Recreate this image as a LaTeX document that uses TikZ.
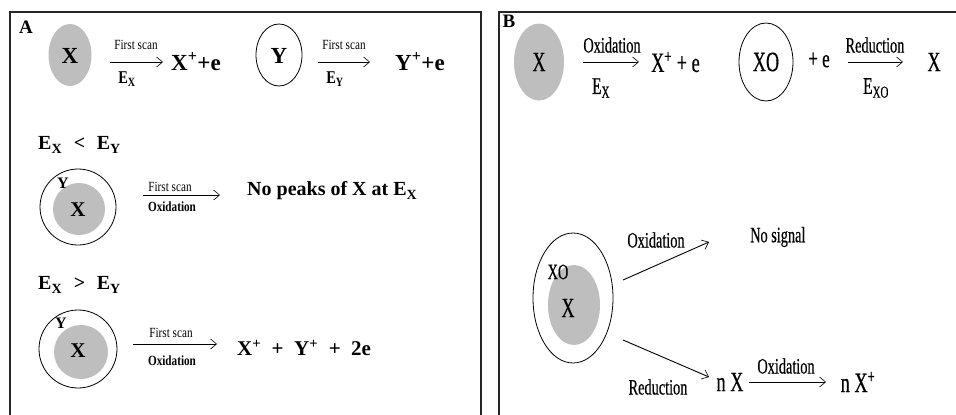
\documentclass[tikz,border=0pt]{standalone}
\usepackage{fontspec}
\setmainfont{Liberation Serif}
\newfontfamily\condB[FakeStretch=0.65,FakeBold=0.4]{Liberation Serif}
\newfontfamily\condA[FakeStretch=0.8]{Liberation Serif}
\usetikzlibrary{arrows.meta,shapes.geometric}
\definecolor{blobgray}{RGB}{190,190,190}
\tikzset{
  frame/.style={line width=1.2pt, draw=black!85},
  rxn/.style={line width=0.7pt, -{Straight Barb[length=6pt,width=10pt,line width=0.6pt]}},
  rxnb/.style={line width=0.9pt, -{Straight Barb[length=6pt,width=10pt,line width=0.6pt]}},
  blob/.style={ellipse, fill=blobgray, inner sep=0pt},
  shell/.style={ellipse, draw, line width=0.8pt, inner sep=0pt},
  abig/.style={font=\bfseries\fontsize{23}{25}\selectfont, inner sep=0pt},
  amid/.style={font=\bfseries\fontsize{20}{22}\selectfont, inner sep=0pt},
  asmall/.style={font=\condA\fontsize{14}{15}\selectfont, inner sep=0pt},
  asmallb/.style={font=\condA\bfseries\fontsize{14}{15}\selectfont, inner sep=0pt},
  esub/.style={font=\condA\bfseries\fontsize{18}{20}\selectfont, inner sep=0pt},
  bbig/.style={font=\condB\fontsize{28}{30}\selectfont, inner sep=0pt},
  blab/.style={font=\condB\fontsize{22}{24}\selectfont, inner sep=0pt},
}
\begin{document}
\begin{tikzpicture}[x=1pt,y=-1pt]
\useasboundingbox (0,0) rectangle (956,415);
\fill[white] (0,0) rectangle (956,415);
% frames
\draw[frame] (10,415) -- (10,12) -- (481,12) -- (481,415);
\draw[frame] (499,415) -- (499,12) -- (956,12);

% ---------------- Panel A ----------------
\node[font=\bfseries\fontsize{19}{21}\selectfont, inner sep=0pt] (labA) at (26,27) {A};
\node[blob, minimum width=43pt, minimum height=62pt] (ax) at (70,55) {};
\node[abig] (axt) at (70,56) {X};
\coordinate (a1s) at (110,62); \coordinate (a1e) at (163,62);
\draw[rxn] (a1s) -- (a1e);
\node[asmall] (a1u) at (136,45) {First scan};
\node[esub] (a1d) at (127,79) {E\textsubscript{X}};
\node[abig, anchor=west] (axp) at (171,62) {X\textsuperscript{+}+e};

\node[shell, minimum width=46pt, minimum height=62pt] (ay) at (279,55) {};
\node[abig] (ayt) at (279,56) {Y};
\coordinate (a2s) at (318,62); \coordinate (a2e) at (370,62);
\draw[rxn] (a2s) -- (a2e);
\node[asmall] (a2u) at (344,45) {First scan};
\node[esub] (a2d) at (335,79) {E\textsubscript{Y}};
\node[abig, anchor=west] (ayp) at (395,62) {Y\textsuperscript{+}+e};

% E_X < E_Y
\node[amid, anchor=west] (lt) at (38,145) {E\textsubscript{X} \,\,<\,\, E\textsubscript{Y}};
\node[shell, circle, minimum size=76pt] (c1o) at (78,207) {};
\node[blob, circle, minimum size=52pt] (c1i) at (79,209) {};
\node[font=\bfseries\fontsize{16}{18}\selectfont, inner sep=0pt] (c1y) at (63,183) {Y};
\node[font=\bfseries\fontsize{21}{23}\selectfont, inner sep=0pt] (c1x) at (78,210) {X};
\coordinate (a3s) at (143,195); \coordinate (a3e) at (220,195);
\draw[rxn] (a3s) -- (a3e);
\node[asmall] (a3u) at (170,187) {First scan};
\node[asmallb] (a3d) at (172,207) {Oxidation};
\node[amid, anchor=west] (np) at (247,191) {No peaks of X at E\textsubscript{X}};

% E_X > E_Y
\node[amid, anchor=west] (gt) at (38,285) {E\textsubscript{X} \,\,>\,\, E\textsubscript{Y}};
\node[shell, circle, minimum size=78pt] (c2o) at (78,349) {};
\node[blob, circle, minimum size=54pt] (c2i) at (81,352) {};
\node[font=\bfseries\fontsize{16}{18}\selectfont, inner sep=0pt] (c2y) at (61,323) {Y};
\node[font=\bfseries\fontsize{21}{23}\selectfont, inner sep=0pt] (c2x) at (78,351) {X};
\coordinate (a4s) at (133,344); \coordinate (a4e) at (217,344);
\draw[rxn] (a4s) -- (a4e);
\node[asmall] (a4u) at (171,333) {First scan};
\node[asmallb] (a4d) at (172,361) {Oxidation};
\node[abig, font=\bfseries\fontsize{21}{23}\selectfont, anchor=west] (prod) at (237,348) {X\textsuperscript{+} \ + \ Y\textsuperscript{+} \ + \ 2e};

% ---------------- Panel B ----------------
\node[font=\bfseries\fontsize{19}{21}\selectfont, inner sep=0pt] (labB) at (509,21) {B};
\node[blob, minimum width=50pt, minimum height=77pt] (bx) at (539,62) {};
\node[bbig] (bxt) at (539,62) {X};
\coordinate (b1s) at (583,62); \coordinate (b1e) at (639,62);
\draw[rxnb] (b1s) -- (b1e);
\node[blab] (b1u) at (612,45) {Oxidation};
\node[blab, font=\condB\fontsize{24}{26}\selectfont] (b1d) at (601,88) {E\textsubscript{X}};
\node[bbig, anchor=west] (bxp) at (651,62) {X\textsuperscript{+}\,+\,e};

\node[shell, minimum width=54pt, minimum height=78pt] (bxo) at (766,62) {};
\node[bbig] (bxot) at (766,62) {XO};
\node[blab, font=\condB\fontsize{26}{28}\selectfont] (bpe) at (819,60) {+\,e};
\coordinate (b2s) at (848,62); \coordinate (b2e) at (903,62);
\draw[rxnb] (b2s) -- (b2e);
\node[blab] (b2u) at (875,45) {Reduction};
\node[blab, font=\condB\fontsize{24}{26}\selectfont] (b2d) at (876,88) {E\textsubscript{XO}};
\node[bbig] (bxr) at (934,62) {X};

% lower B
\node[shell, minimum width=80pt, minimum height=130pt] (bco) at (573,298) {};
\node[blob, minimum width=52pt, minimum height=80pt] (bci) at (574,305) {};
\node[blab] (bcxo) at (558,272) {XO};
\node[bbig] (bcx) at (568,308) {X};
\coordinate (b3s) at (623,280); \coordinate (b3e) at (709,242);
\draw[rxnb] (b3s) -- (b3e);
\node[blab] (b3u) at (656,240) {Oxidation};
\node[blab, anchor=west] (nosig) at (750,237) {No signal};
\coordinate (b4s) at (623,340); \coordinate (b4e) at (709,377);
\draw[rxnb] (b4s) -- (b4e);
\node[blab] (b4d) at (658,387) {Reduction};
\node[bbig] (nx) at (730,382) {n\,X};
\coordinate (b5s) at (749,382); \coordinate (b5e) at (826,382);
\draw[rxnb] (b5s) -- (b5e);
\node[blab] (b5u) at (786,366) {Oxidation};
\node[bbig] (nxp) at (858,382) {n\,X\textsuperscript{+}};
\end{tikzpicture}
\end{document}
